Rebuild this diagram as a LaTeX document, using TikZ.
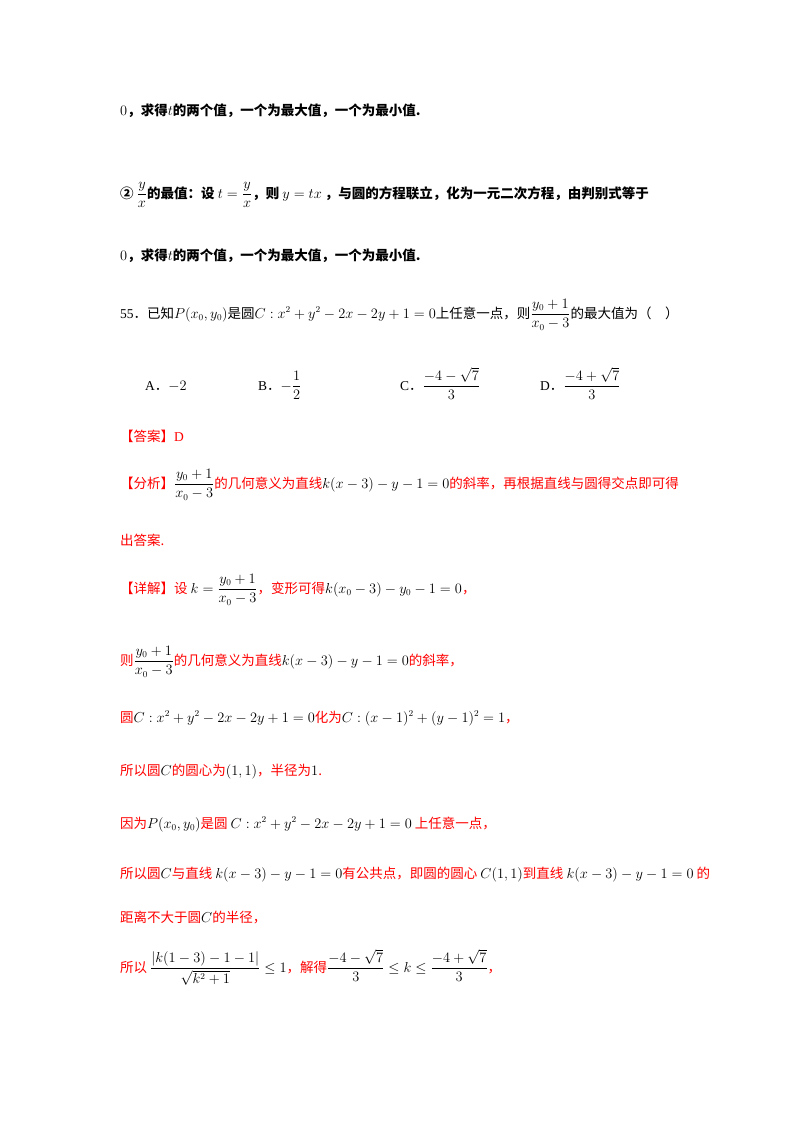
\documentclass[tikz,border=0pt]{standalone}
\usepackage{amsmath}
\usepackage{fontspec}
\newfontfamily\cjk{Noto Sans CJK SC}
\setmainfont{Liberation Serif}
\begin{document}
\begin{tikzpicture}[x=1pt,y=-1pt,
  ln/.style={anchor=base west,inner sep=0pt,font=\fontsize{13.5}{16}\selectfont},
  bl/.style={ln,font=\fontsize{13.5}{16}\selectfont\bfseries},
  rd/.style={ln,text=red}]
\useasboundingbox[fill=white] (0,0) rectangle (800,1132);
\node[bl] (l1) at (120,115) {$0$\cjk\bfseries ，求得$t$的两个值，一个为最大值，一个为最小值.};
\node[bl] (l2) at (120,198) {\cjk\bfseries ②\ $\dfrac{y}{x}$的最值：设\ $t=\dfrac{y}{x}$，则\ $y=tx$\ ，与圆的方程联立，化为一元二次方程，由判别式等于};
\node[bl] (l3) at (120,260) {$0$\cjk\bfseries ，求得$t$的两个值，一个为最大值，一个为最小值.};
\node[ln] (q) at (120,318) {55{\cjk ．}\cjk 已知$P(x_0,y_0)$是圆$C:x^2+y^2-2x-2y+1=0$上任意一点，则$\dfrac{y_0+1}{x_0-3}$的最大值为（\quad ）};
\node[ln] (a) at (145,390) {A{\cjk ．}$-2$};
\node[ln] (b) at (258,390) {B{\cjk ．}$-\dfrac12$};
\node[ln] (c) at (400,390) {C{\cjk ．}$\dfrac{-4-\sqrt7}{3}$};
\node[ln] (d) at (540,390) {D{\cjk ．}$\dfrac{-4+\sqrt7}{3}$};
\node[rd] (ans) at (120,441) {\cjk 【答案】\rmfamily D};
\node[rd] (an) at (120,488) {\cjk 【分析】$\color{black}\dfrac{y_0+1}{x_0-3}$的几何意义为直线$\color{black}k(x-3)-y-1=0$的斜率，再根据直线与圆得交点即可得};
\node[rd] (an2) at (120,545) {\cjk 出答案.};
\node[rd] (x1) at (120,593) {\cjk 【详解】设\ $\color{black}k=\dfrac{y_0+1}{x_0-3}$，变形可得$\color{black}k(x_0-3)-y_0-1=0$，};
\node[rd] (x2) at (120,665) {\cjk 则$\color{black}\dfrac{y_0+1}{x_0-3}$的几何意义为直线$\color{black}k(x-3)-y-1=0$的斜率，};
\node[rd] (x3) at (120,722) {\cjk 圆$\color{black}C:x^2+y^2-2x-2y+1=0$化为$\color{black}C:(x-1)^2+(y-1)^2=1$，};
\node[rd] (x4) at (120,775) {\cjk 所以圆$\color{black}C$的圆心为$\color{black}(1,1)$，半径为$\color{black}1$.};
\node[rd] (x5) at (120,828) {\cjk 因为$\color{black}P(x_0,y_0)$是圆\ $\color{black}C:x^2+y^2-2x-2y+1=0$\ 上任意一点，};
\node[rd] (x6) at (120,878) {\cjk 所以圆$\color{black}C$与直线\ $\color{black}k(x-3)-y-1=0$有公共点，即圆的圆心\ $\color{black}C(1,1)$到直线\ $\color{black}k(x-3)-y-1=0$\ 的};
\node[rd] (x7) at (120,922) {\cjk 距离不大于圆$\color{black}C$的半径，};
\node[rd] (x8) at (120,972) {\cjk 所以\ $\color{black}\dfrac{|k(1-3)-1-1|}{\sqrt{k^2+1}}\le1$，解得$\color{black}\dfrac{-4-\sqrt7}{3}\le k\le\dfrac{-4+\sqrt7}{3}$，};
\end{tikzpicture}
\end{document}
